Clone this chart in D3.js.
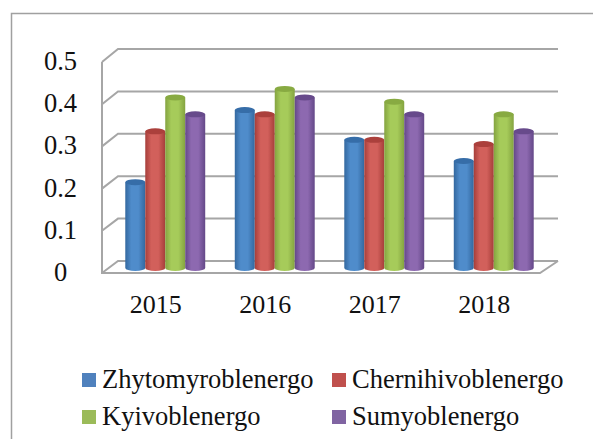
<!DOCTYPE html>
<html><head><meta charset="utf-8">
<script src="https://cdn.jsdelivr.net/npm/d3@7"></script>
<style>html,body{margin:0;padding:0;background:#fff}svg{display:block}text{font-family:"Liberation Serif",serif;fill:#111}</style>
</head><body><svg id="c" width="593" height="439"></svg>
<script>
const categories = ["2015","2016","2017","2018"];
const seriesNames = ["Zhytomyroblenergo","Chernihivoblenergo","Kyivoblenergo","Sumyoblenergo"];
const zhytomyr = [0.2,0.37,0.3,0.25];
const chernihiv = [0.32,0.36,0.3,0.29];
const kyiv = [0.4,0.42,0.39,0.36];
const sumy = [0.36,0.4,0.36,0.32];
const yTicks = [0,0.1,0.2,0.3,0.4,0.5];
const seriesValues = [zhytomyr,chernihiv,kyiv,sumy];
const colors = [["#33689f","#4f8ccb","#366da8"],["#a63e3a","#d2605b","#ab403c"],["#84a340","#a6cb5a","#88aa42"],["#644888","#8d69b0","#674a8b"]];
const legendColors = ["#4f81bd","#c0504d","#9bbb59","#8064a2"];
const svg = d3.select("#c");
const defs = svg.append("defs");
colors.forEach((c,i)=>{
  const g = defs.append("linearGradient").attr("id","g"+i);
  [[0,c[0]],[0.3,c[1]],[0.65,c[1]],[1,c[0]]].forEach(s=>g.append("stop").attr("offset",s[0]).attr("stop-color",s[1]));
});
const grid="#a6a6a6";
svg.append("path").attr("d","M11.5,439V13.5H593").attr("fill","none").attr("stroke","#a0a0a0").attr("stroke-width",1.5);
const yBack = d3.scaleLinear().domain([0,0.5]).range([261,49]);
const yFront = d3.scaleLinear().domain([0,0.5]).range([273,62]);
const yBar = d3.scaleLinear().domain([0,0.5]).range([267,55]);
const x0 = d3.scaleBand().domain(categories).range([102,540]).paddingInner(0.27).paddingOuter(0.135);
const xS = d3.scaleBand().domain(d3.range(4)).range([0,x0.bandwidth()]);
const wall = svg.append("g").attr("fill","none").attr("stroke",grid).attr("stroke-width",2);
yTicks.forEach(t=>{
  wall.append("path").attr("d",`M102,${yFront(t)}L118,${yBack(t)}H558`);
});
wall.append("path").attr("d",`M102,${yFront(0.5)}V${yFront(0)}H540L558,${yBack(0)}`);
const offs=8.5;
categories.forEach((cat,ci)=>{
  seriesValues.forEach((vals,si)=>{
    const x=x0(cat)+offs+xS(si), w=xS.bandwidth(), top=yBar(vals[ci]), bot=yBar(0)+1, r=3;
    const g=svg.append("g");
    g.append("path").attr("d",`M${x},${top}V${bot}A${w/2},${r} 0 0 0 ${x+w},${bot}V${top}Z`).attr("fill",`url(#g${si})`);
    g.append("ellipse").attr("cx",x+w/2).attr("cy",top).attr("rx",w/2).attr("ry",r).attr("fill",colors[si][2]);
  });
});
svg.selectAll(".yt").data(yTicks).join("text").attr("x",60.5).attr("y",d=>yFront(d)+8).attr("text-anchor","middle").attr("font-size",26.5).text(d=>d===0?"0":d.toFixed(1));
svg.selectAll(".xt").data(categories).join("text").attr("x",d=>x0(d)+x0.bandwidth()/2-1).attr("y",313).attr("text-anchor","middle").attr("font-size",26).text(d=>d);
const lx=[82,332], ly=[380,417];
seriesNames.forEach((n,i)=>{
  const c=i%2,r=i>>1;
  svg.append("rect").attr("x",lx[c]).attr("y",ly[r]-7).attr("width",14).attr("height",14).attr("fill",legendColors[i]);
  svg.append("text").attr("x",lx[c]+20).attr("y",ly[r]+8).attr("font-size",26.5).text(n);
});
</script></body></html>
